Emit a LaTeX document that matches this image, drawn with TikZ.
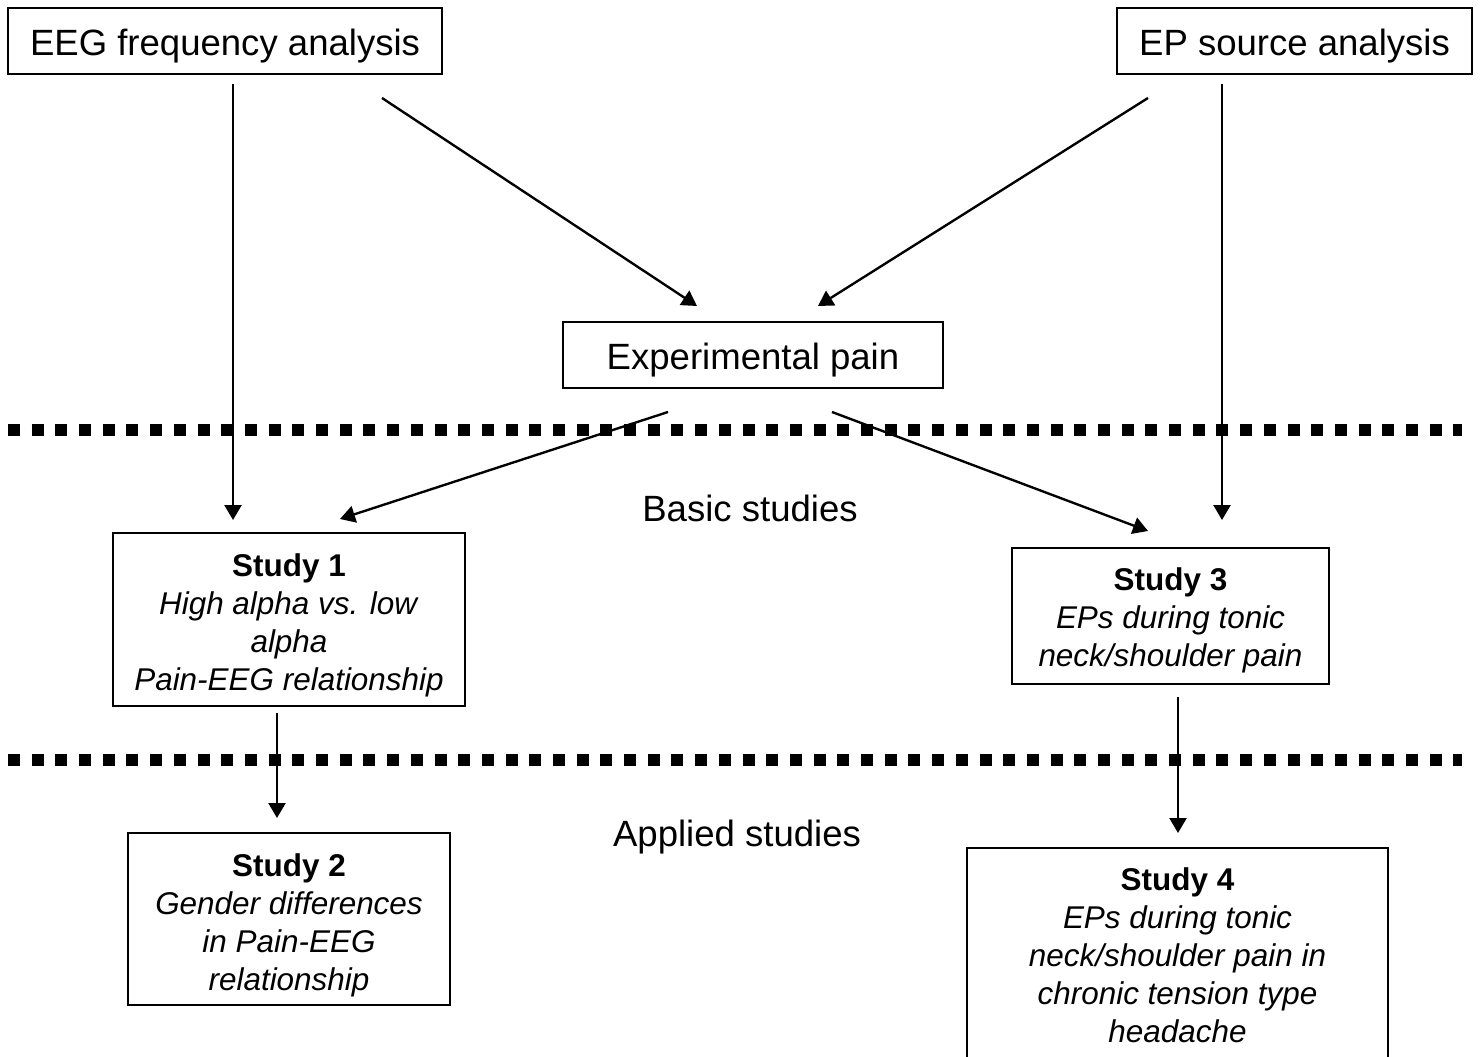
\documentclass[tikz,border=0pt]{standalone}
\usepackage{fontspec}
\setmainfont{Liberation Sans}
\usetikzlibrary{arrows.meta}
\newcommand\lift[1]{\rule{0pt}{#1}}

\begin{document}
\begin{tikzpicture}
[x=0.02cm,y=-0.02cm
,box/.style={draw,line width=1.14pt,inner sep=0pt,align=center}
,head/.style={box,font=\fontsize{20.8}{25}\selectfont,minimum height=1.32cm
  ,execute at begin node={\rule{0pt}{21pt}}}
,study/.style={box,font=\fontsize{17.9}{21.6}\selectfont}
,lbl/.style={font=\fontsize{20.8}{25}\selectfont}
,arr/.style={line width=1.35pt,arrows={-Triangle[length=0.3cm,width=0.34cm]}}
,sep/.style={line width=0.24cm,dash pattern=on 0.24cm off 0.234cm}
]
\useasboundingbox (0,0) rectangle (1481,1057);

\node[head,minimum width=8.68cm] (eeg) at (225,41) {EEG frequency analysis};
\node[head,minimum width=7.10cm] (ep) at (1294.5,41) {EP source analysis};
\node[head,minimum width=7.60cm] (pain) at (753,355) {Experimental pain};

\node[study,minimum width=7.04cm,minimum height=3.46cm] (s1) at (289,619.5)
  {\lift{20pt}\textbf{Study 1}\\\textit{High alpha vs. low}\\\textit{alpha}\\\textit{Pain-EEG relationship}};
\node[study,minimum width=6.34cm,minimum height=2.72cm] (s3) at (1170.5,616)
  {\lift{17.6pt}\textbf{Study 3}\\\textit{EPs during tonic}\\\textit{neck/shoulder pain}};
\node[study,minimum width=6.44cm,minimum height=3.44cm] (s2) at (289,919)
  {\lift{20pt}\textbf{Study 2}\\\textit{Gender differences}\\\textit{in Pain-EEG}\\\textit{relationship}};
\node[study,minimum width=8.42cm,minimum height=4.30cm] (s4) at (1177.5,955.5)
  {\textbf{Study 4}\\\textit{EPs during tonic}\\\textit{neck/shoulder pain in}\\\textit{chronic tension type}\\\textit{headache}};

\node[lbl] (basic) at (750,508) {Basic studies};
\node[lbl] (applied) at (737,837) {Applied studies};

% separators
\draw[sep] (8,430) -- (1462,430);
\draw[sep] (8,760) -- (1462,760);

% arrow ends
\coordinate (eegdown) at (233,84);
\coordinate (eegin) at (233,520);
\coordinate (eegslant) at (382,98);
\coordinate (painl) at (697,306);
\coordinate (epslant) at (1148,98);
\coordinate (painr) at (818,306);
\coordinate (epdown) at (1222,84);
\coordinate (epin) at (1222,520);
\coordinate (painoutl) at (668,412);
\coordinate (s1in) at (340,519);
\coordinate (painoutr) at (832,412);
\coordinate (s3in) at (1148,531);
\coordinate (s1out) at (277,713);
\coordinate (s2in) at (277,818);
\coordinate (s3out) at (1178,697);
\coordinate (s4in) at (1178,833);

\draw[arr] (eegdown) -- (eegin);
\draw[arr] (eegslant) -- (painl);
\draw[arr] (epslant) -- (painr);
\draw[arr] (epdown) -- (epin);
\draw[arr] (painoutl) -- (s1in);
\draw[arr] (painoutr) -- (s3in);
\draw[arr] (s1out) -- (s2in);
\draw[arr] (s3out) -- (s4in);
\end{tikzpicture}
\end{document}
